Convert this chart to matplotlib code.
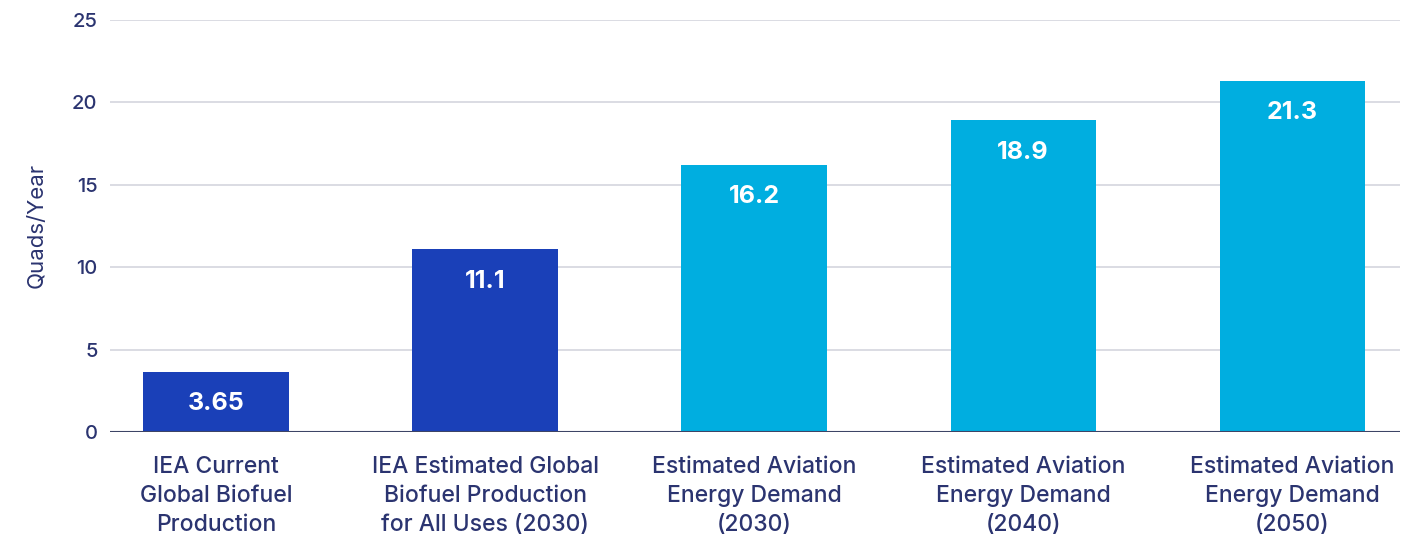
import matplotlib
matplotlib.use("Agg")
import matplotlib.pyplot as plt

plt.rcParams['font.family'] = ['Inter', 'DejaVu Sans']

categories = [
    "IEA Current\nGlobal Biofuel\nProduction",
    "IEA Estimated Global\nBiofuel Production\nfor All Uses (2030)",
    "Estimated Aviation\nEnergy Demand\n(2030)",
    "Estimated Aviation\nEnergy Demand\n(2040)",
    "Estimated Aviation\nEnergy Demand\n(2050)",
]
values = [3.65, 11.1, 16.2, 18.9, 21.3]
value_labels = ["3.65", "11.1", "16.2", "18.9", "21.3"]
bar_colors = ["#1a40b8", "#1a40b8", "#00aee0", "#00aee0", "#00aee0"]
yticks = [0, 5, 10, 15, 20, 25]

text_color = "#2b3470"

fig = plt.figure(figsize=(14.19, 5.36), dpi=100)
ax = fig.add_axes([0.0775, 0.194, 0.909, 0.769])

x = range(len(values))
ax.bar(x, values, width=0.54, color=bar_colors, zorder=3)

for i, (v, lab) in enumerate(zip(values, value_labels)):
    ax.annotate(lab, (i, v), xytext=(0, -32), textcoords="offset pixels",
                ha="center", va="center", color="white",
                fontsize=18, fontweight="bold", zorder=4)

ax.set_xlim(-0.394, 4.40)
ax.set_ylim(0, 25)
ax.set_yticks(yticks)
ax.yaxis.grid(True, color="#d4d5de", linewidth=1.2, zorder=0)
ax.axhline(0, color="#3d4466", linewidth=1.5, zorder=5)

ax.set_xticks(list(x))
ax.set_xticklabels(categories, fontsize=16.5, fontweight="medium",
                   color=text_color, linespacing=1.42)
ax.tick_params(axis="x", length=0, pad=17)
ax.tick_params(axis="y", length=0, pad=9, labelsize=14.5, labelcolor=text_color)
for t in ax.get_yticklabels():
    t.set_fontweight("medium")

for s in ax.spines.values():
    s.set_visible(False)

ax.set_ylabel("Quads/Year", fontsize=16, color=text_color, labelpad=18)

fig.savefig("out.png", dpi=100)
